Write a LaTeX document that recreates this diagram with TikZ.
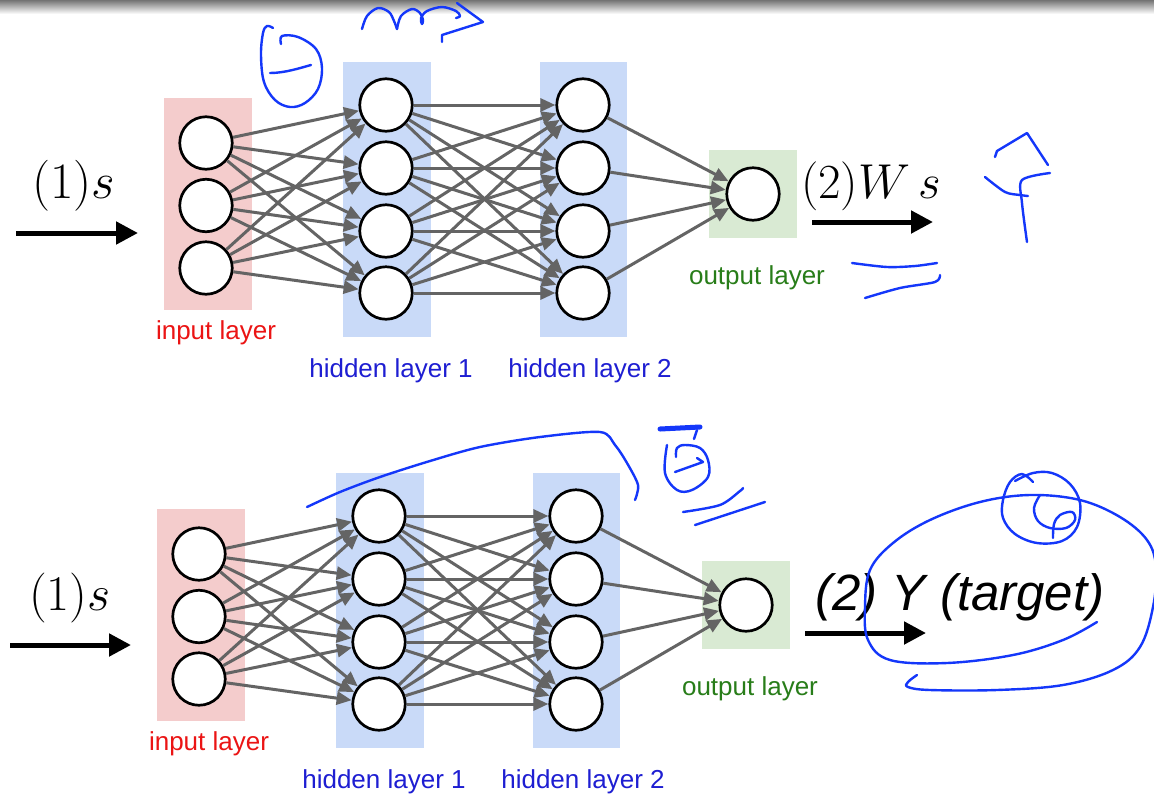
\RequirePackage{fix-cm}
\documentclass[tikz,border=0pt]{standalone}
\usepackage[no-math]{fontspec}
\newfontfamily\arial{Liberation Sans}
\usetikzlibrary{arrows.meta}
\definecolor{inbg}{RGB}{244,204,204}
\definecolor{hidbg}{RGB}{201,218,248}
\definecolor{outbg}{RGB}{217,234,211}
\definecolor{inred}{RGB}{235,20,20}
\definecolor{hidblue}{RGB}{30,30,210}
\definecolor{outgreen}{RGB}{40,125,25}
\definecolor{edgegray}{RGB}{100,100,100}
\definecolor{pen}{RGB}{20,55,250}

% one feed-forward network: 3 inputs, two hidden layers of 4, one output
\newcommand\drawnet[1]{%
  \fill[inbg]  (164,98)  rectangle (252,310);
  \fill[hidbg] (343,62)  rectangle (431,337);
  \fill[hidbg] (540,62)  rectangle (627,337);
  \fill[outbg] (709,150) rectangle (797,238);
  \foreach \k/\yy in {1/143,2/205.5,3/268}
    \node[neuron] (#1i\k) at (206,\yy) {};
  \foreach \k/\yy in {1/105,2/168,3/231,4/293} {
    \node[neuron] (#1a\k) at (386,\yy) {};
    \node[neuron] (#1b\k) at (583,\yy) {};
  }
  \node[neuron] (#1o) at (753,194) {};
  \foreach \s in {1,2,3}
    \foreach \t in {1,2,3,4}
      \draw[synapse] (#1i\s) -- (#1a\t);
  \foreach \s in {1,2,3,4}
    \foreach \t in {1,2,3,4}
      \draw[synapse] (#1a\s) -- (#1b\t);
  \foreach \s in {1,2,3,4}
    \draw[synapse] (#1b\s) -- (#1o);
  \node[layerlabel,text=inred]    (#1li) at (216,333) {input layer};
  \node[layerlabel,text=hidblue]  (#1la) at (391,371) {hidden layer 1};
  \node[layerlabel,text=hidblue]  (#1lb) at (590,371) {hidden layer 2};
  \node[layerlabel,text=outgreen] (#1lo) at (757,278) {output layer};
}

\begin{document}
\begin{tikzpicture}[x=1pt,y=-1pt,
  neuron/.style={circle,draw=black,fill=white,line width=2.7pt,minimum size=52.5pt,inner sep=0pt},
  synapse/.style={draw=edgegray,line width=3pt,-{Triangle[length=15pt,width=13pt]}},
  layerlabel/.style={font=\arial\fontsize{26}{30}\selectfont},
  bigarrow/.style={line width=5pt,-{Triangle[length=22pt,width=22pt]}},
  ink/.style={draw=pen,line width=2.4pt,line cap=round,line join=round},
]
\useasboundingbox (0,0) rectangle (1154,796);
\fill[white] (0,0) rectangle (1154,796);
\shade[top color=black!55, bottom color=white] (0,0) rectangle (1154,14);

% upper network: prediction
\begin{scope}
  \drawnet{t}
\end{scope}
% lower network: target
\begin{scope}[shift={(-7,411)}]
  \drawnet{b}
\end{scope}

% inputs and outputs, upper
\node[font=\fontsize{51}{60}\selectfont] (s1) at (74,186) {$(1)s$};
\coordinate (a1s) at (16,233);  \coordinate (a1e) at (138,233);
\draw[bigarrow] (a1s) -- (a1e);
\node[font=\fontsize{49}{58}\selectfont] (ws) at (871,186) {$(2)W\,s$};
\coordinate (a2s) at (812,222); \coordinate (a2e) at (933,222);
\draw[bigarrow] (a2s) -- (a2e);

% inputs and outputs, lower
\node[font=\fontsize{50}{58}\selectfont] (s2) at (70,598) {$(1)s$};
\coordinate (b1s) at (10,645);  \coordinate (b1e) at (131,645);
\draw[bigarrow] (b1s) -- (b1e);
\node[font=\arial\itshape\fontsize{51}{58}\selectfont] (yt) at (960,597) {(2) Y (target)};
\coordinate (b2s) at (805,633); \coordinate (b2e) at (926,633);
\draw[bigarrow] (b2s) -- (b2e);

% pen annotations
\draw[ink] plot[smooth,tension=0.55] coordinates {(362,29) (367,16) (378,8) (389,12) (394,21) (397,29)};
\draw[ink] plot[smooth,tension=0.55] coordinates {(397,29) (401,16) (412,9) (420,13) (423,20) (422,24) (421,18) (427,11) (442,7) (456,11) (460,16) (456,18)};
\draw[ink] (457,3) -- (483,22) -- (442,35) -- (442,42);
\draw[ink] plot[smooth,tension=0.6] coordinates {(281,44) (282,36) (298,37) (316,49) (322,68) (318,89) (305,103) (290,107) (275,100) (264,82) (261,55) (263,33) (267,26) (273,28)};
\draw[ink] (270,73) .. controls (285,73) and (300,68) .. (311,65);

\draw[ink] (995,157) -- (997,151) -- (1027,133) -- (1048,165);
\draw[ink] plot[smooth] coordinates {(985,177) (1005,192) (1020,195) (1028,196)};
\draw[ink] plot[smooth] coordinates {(1050,173) (1022,180) (1022,203) (1027,242)};
\draw[ink] plot[smooth] coordinates {(852,263) (887,267) (915,266) (937,263)};
\draw[ink] plot[smooth] coordinates {(865,298) (900,288) (935,282) (940,275)};

\draw[ink] plot[smooth,tension=0.5] coordinates {(307,507) (340,492) (380,477) (430,461) (480,447) (540,437) (600,432) (615,445) (627,463) (638,485) (635,500)};
\draw[pen,line width=5pt,line cap=round] (660,429) -- (700,427);
\draw[ink] (697,430) -- (694,439);
\draw[ink] plot[smooth,tension=0.6] coordinates {(667,445) (665,473) (677,490) (692,490) (708,477) (708,460) (700,448) (685,445) (677,448) (676,457)};
\draw[ink] (675,472) -- (703,462) -- (697,458);
\draw[ink] plot[smooth] coordinates {(683,512) (720,505) (740,491) (743,488)};
\draw[ink] (695,525) -- (765,502);

\draw[ink] plot[smooth,tension=0.6] coordinates {(1097,622) (1063,640) (1013,655) (947,663) (890,660) (868,640) (865,607) (870,570) (893,543) (930,520) (980,502) (1030,495) (1080,500) (1120,517) (1147,540) (1156,567) (1153,607) (1140,647) (1113,670) (1063,685) (997,690) (930,690) (908,687) (908,682) (917,675)};
\draw[ink] plot[smooth,tension=0.6] coordinates {(1033,482) (1022,474) (1010,482) (1003,500) (1003,518) (1015,534) (1037,543) (1062,541) (1077,527) (1080,503) (1070,484) (1052,473) (1033,473) (1015,481)};
\draw[ink] plot[smooth,tension=0.6] coordinates {(1040,495) (1034,508) (1038,521) (1050,528) (1066,528) (1075,520) (1072,512) (1060,515) (1054,524) (1053,538)};
\end{tikzpicture}
\end{document}
